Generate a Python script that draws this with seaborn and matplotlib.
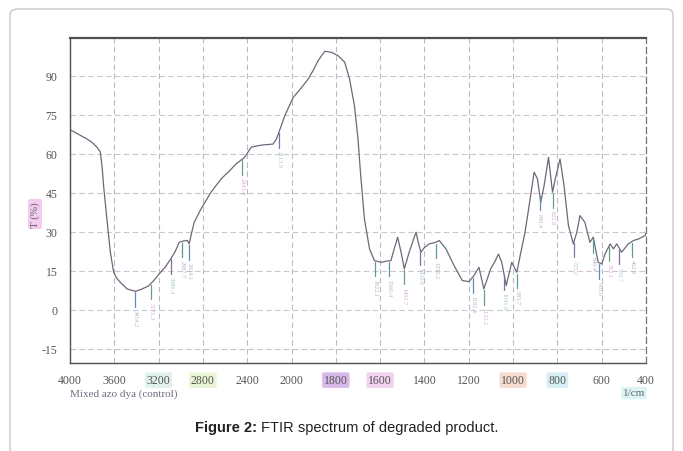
import numpy as np
import pandas as pd
import matplotlib
matplotlib.use("Agg")
import matplotlib.pyplot as plt
import seaborn as sns
from matplotlib.patches import FancyBboxPatch

# ---------------- data ----------------
wavenumber = [4000, 3950, 3900, 3848, 3800, 3757, 3727, 3710, 3697, 3667, 3636, 3606, 3575, 3545,
              3485, 3440, 3409, 3364, 3288, 3240, 3197, 3140, 3091, 3050, 3015, 2980, 2939, 2924,
              2900, 2879, 2818, 2727, 2636, 2560, 2500, 2424, 2364, 2300, 2250, 2167, 2136, 2100,
              2061, 2020, 1992, 1960, 1925, 1900, 1880, 1850, 1820, 1790, 1760, 1738, 1716, 1700,
              1689, 1671, 1648, 1626, 1596, 1570, 1551, 1535, 1521, 1505, 1491, 1469, 1450, 1438,
              1428, 1416, 1400, 1379, 1350, 1333, 1303, 1266, 1229, 1199, 1177, 1154, 1132, 1101,
              1080, 1066, 1051, 1031, 1006, 983, 968, 946, 923, 905, 890, 875, 860, 840, 822, 806,
              788, 770, 750, 728, 712, 698, 676, 653, 638, 616, 600, 585, 562, 547, 532, 510, 480,
              457, 434, 404, 400]
transmittance = [69.3, 68.2, 67.0, 65.8, 64.4, 62.6, 60.8, 55.0, 47.8, 35.0, 22.3, 14.5, 12.0, 10.6,
                 8.1, 7.5, 7.2, 7.8, 9.3, 11.5, 13.8, 16.5, 19.6, 22.5, 26.0, 26.5, 26.7, 25.4,
                 30.0, 33.7, 38.8, 45.3, 50.4, 53.5, 56.2, 58.7, 62.6, 63.2, 63.5, 63.8, 65.8, 70.0,
                 74.7, 78.5, 81.8, 85.0, 88.8, 92.5, 95.9, 99.5, 99.1, 97.8, 95.3, 88.8, 78.6, 65.8,
                 53.0, 35.0, 23.5, 19.0, 18.3, 18.8, 19.0, 24.0, 28.0, 22.0, 15.8, 22.2, 27.0, 29.9,
                 26.0, 22.2, 24.0, 25.4, 26.0, 26.7, 23.5, 17.0, 11.3, 10.9, 13.2, 16.4, 8.1, 15.8,
                 19.0, 21.5, 18.3, 9.4, 18.3, 14.5, 20.9, 29.9, 42.7, 53.0, 50.4, 41.4, 47.8, 58.7,
                 45.3, 51.7, 58.1, 47.8, 32.4, 25.4, 30.0, 36.3, 33.7, 26.0, 28.0, 18.3, 17.7, 21.5,
                 25.4, 23.5, 25.4, 22.2, 25.4, 26.7, 27.3, 28.6, 29.6]

peak_positions = [3414, 3271, 3086, 2987, 2924, 2443, 2113, 1622, 1560, 1491, 1420, 1350,
                  1182, 1132, 1041, 983, 880, 822, 725, 640, 610, 565, 520, 462]
peak_labels = ["3414.2", "3271.3", "3086.4", "2987.7", "2924.1", "2443.4", "2113.9", "1622.1",
               "1560.4", "1491.7", "1420.6", "1350.2", "1182.4", "1132.2", "1041.6", "983.7",
               "880.4", "822.8", "725.2", "640.4", "610.6", "565.1", "520.7", "462.9"]

x_ticks = [4000, 3600, 3200, 2800, 2400, 2000, 1800, 1600, 1400, 1200, 1000, 800, 600, 400]
y_ticks = [-15, 0, 15, 30, 45, 60, 75, 90]
highlight = {3200: "#e2f3ee", 2800: "#eaf5d6", 1800: "#d9b9ea", 1600: "#f1d2f1",
             1000: "#f6dccf", 800: "#d6eff4"}

df = pd.DataFrame({"wavenumber": wavenumber, "T": transmittance})

# ---------------- figure ----------------
sns.set_style("white")
plt.rcParams["font.family"] = ["Liberation Serif", "DejaVu Serif"]
plt.rcParams["axes.unicode_minus"] = False

fig = plt.figure(figsize=(6.83, 4.52), dpi=100)
ax = fig.add_axes([70 / 683, 1 - 364 / 452, (646 - 70) / 683, (364 - 39) / 452])


def fwd(x):
    x = np.asarray(x, dtype=float)
    return np.where(x > 2000, 2000 + (x - 2000) / 2.0, x)


def inv(y):
    y = np.asarray(y, dtype=float)
    return np.where(y > 2000, 2000 + (y - 2000) * 2.0, y)


ax.set_xscale("function", functions=(fwd, inv))

sns.lineplot(data=df, x="wavenumber", y="T", sort=False, estimator=None,
             color="#6d6878", linewidth=0.9, ax=ax)

ax.set_xlim(4000, 400)
ax.set_ylim(-20.4, 104.6)

# grid
for xv in x_ticks[1:-1]:
    ax.axvline(xv, color="#b9bcc8", lw=0.8, ls=(0, (5, 3)), zorder=0)
grid_cols = ["#c8c0cc", "#c6cdd0", "#d2c3cf", "#c0cccc", "#cdc2cc", "#c4cace", "#cfc6cf", "#c4cbd0"]
for yv, c in zip(y_ticks, grid_cols):
    ax.axhline(yv, color=c, lw=0.8, ls=(0, (5, 3)), zorder=0)

# ticks
ax.set_xticks(x_ticks)
ax.set_xticklabels([str(v) for v in x_ticks])
minor_x = list(np.arange(4000, 2000, -80)) + list(np.arange(2000, 400, -40))
ax.set_xticks([v for v in minor_x if v not in x_ticks], minor=True)
ax.set_yticks(y_ticks)
ax.set_yticks([v for v in np.arange(-20, 105, 2.5) if v not in y_ticks], minor=True)

ax.tick_params(axis="x", which="major", direction="in", length=5, width=0.8, color="#444",
               labelsize=8.5, labelcolor="#555", pad=8)
ax.tick_params(axis="x", which="minor", direction="in", length=3, width=0.7, color="#444")
ax.tick_params(axis="y", which="major", direction="out", length=6, width=0.9, color="#444",
               labelsize=8.5, labelcolor="#555", pad=3)
ax.tick_params(axis="y", which="minor", direction="out", length=3, width=0.8, color="#444")

for lab in ax.get_xticklabels():
    v = int(lab.get_text())
    if v in highlight:
        lab.set_bbox(dict(facecolor=highlight[v], edgecolor="none", pad=1.2,
                          boxstyle="round,pad=0.15"))

for side in ["left", "bottom", "top"]:
    ax.spines[side].set_color("#505050")
    ax.spines[side].set_linewidth(1.0)
ax.spines["top"].set_linewidth(1.6)
ax.spines["right"].set_color("#707070")
ax.spines["right"].set_linestyle((0, (5, 3)))
ax.spines["right"].set_linewidth(0.9)

ax.set_xlabel("")
ax.set_ylabel("")

# peak markers
mark_cols = ["#5d8fb5", "#6aa07a", "#8a6aa8", "#5a9a9a"]
text_cols = ["#b0b8c8", "#d8a8d8", "#a8c8d0", "#b8b0c0"]
for i, (p, lbl) in enumerate(zip(peak_positions, peak_labels)):
    t = np.interp(p, wavenumber[::-1], transmittance[::-1])
    ax.plot([p, p], [t - 0.5, t - 6], color=mark_cols[i % 4], lw=0.9, zorder=3)
    ax.text(p, t - 7, lbl, rotation=270, ha="center", va="top", fontsize=4.5,
            color=text_cols[i % 4], zorder=3)

# texts around the axes
fig.text(35 / 683, 1 - 215 / 452, "T (%)", rotation=90, ha="center", va="center",
         fontsize=8, color="#666",
         bbox=dict(facecolor="#f3cdf0", edgecolor="none", boxstyle="round,pad=0.2"))
fig.text(70 / 683, 1 - 394 / 452, "Mixed azo dya (control)", ha="left", va="center",
         fontsize=8, color="#707080")
fig.text(634 / 683, 1 - 394 / 452, "1/cm", ha="center", va="center", fontsize=8, color="#666",
         bbox=dict(facecolor="#dcf4f4", edgecolor="none", boxstyle="round,pad=0.15"))

# caption
fig.text(257 / 683, 1 - 428 / 452, "Figure 2:", ha="right", va="center", fontsize=10.5,
         fontweight="bold", family=["Liberation Sans", "DejaVu Sans"], color="#222")
fig.text(261 / 683, 1 - 428 / 452, "FTIR spectrum of degraded product.", ha="left",
         va="center", fontsize=10.5, family=["Liberation Sans", "DejaVu Sans"], color="#222")

# outer rounded frame
frame = FancyBboxPatch((10 / 683, -0.05), (673 - 10) / 683, 1 - 10 / 452 + 0.05,
                       boxstyle="round,pad=0,rounding_size=0.012", transform=fig.transFigure,
                       facecolor="none", edgecolor="#c8c8c8", linewidth=1.0)
fig.patches.append(frame)

fig.savefig("out.png", dpi=100)
